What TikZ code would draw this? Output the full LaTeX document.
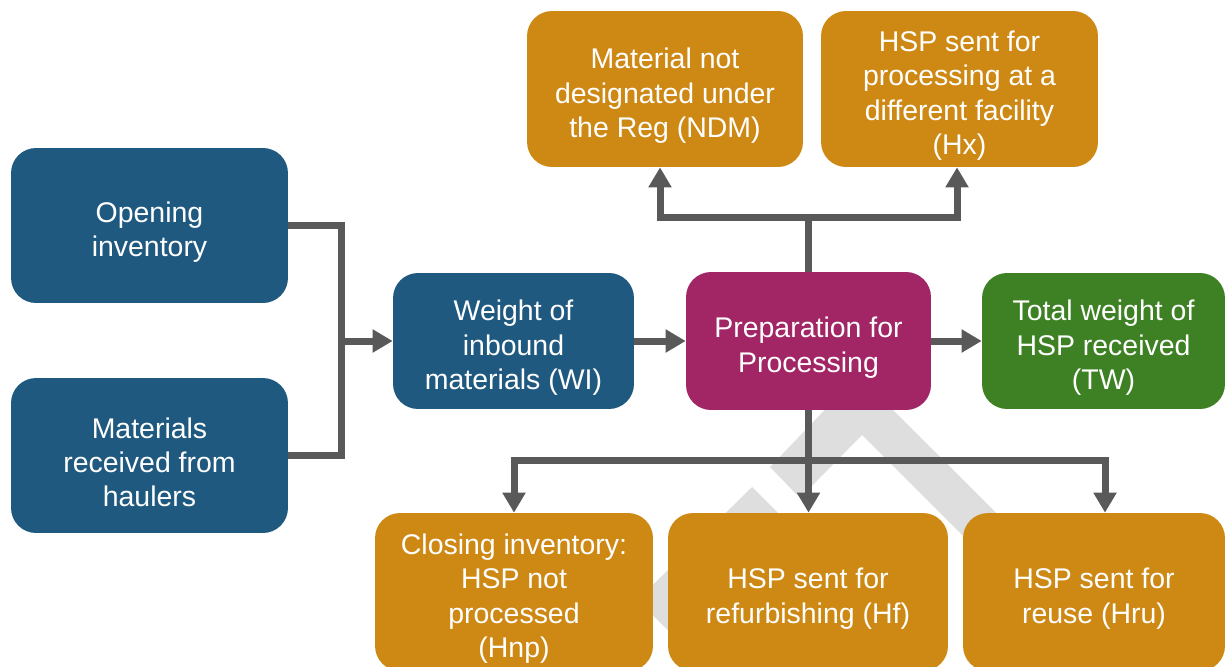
\documentclass[tikz,border=0pt]{standalone}
\usepackage{fontspec}
\setmainfont{Liberation Sans}
\usepackage{tikz}
\usetikzlibrary{arrows.meta}
\definecolor{boxblue}{RGB}{31,89,127}
\definecolor{boxplum}{RGB}{162,37,101}
\definecolor{boxgreen}{RGB}{61,129,36}
\definecolor{boxgold}{RGB}{206,137,21}
\definecolor{linkgray}{RGB}{89,89,89}
\definecolor{wmgray}{RGB}{222,222,222}
\newcommand{\cardtop}{\rule{0pt}{19.5pt}}
\tikzset{>={Triangle[length=0.4cm, width=0.44cm]}}
\tikzset{
  card/.style = {rounded corners = 0.5cm, text = white, align = center,
    inner sep = 0pt, font = \fontsize{16.2}{19.6}\selectfont},
  bluecard/.style = {card, fill = boxblue},
  plumcard/.style = {card, fill = boxplum},
  greencard/.style = {card, fill = boxgreen},
  goldcard/.style = {card, fill = boxgold},
  link/.style = {draw = linkgray, line width = 0.14cm}
}

\begin{document}
\begin{tikzpicture}[x = 0.02cm, y = -0.02cm]
\clip (0,0) rectangle (1229,666);
\fill[wmgray] (770,467) -- (858,375) -- (1184,700) -- (1127,700) -- (862,435) -- (800,498) -- cycle;
\fill[wmgray] (752,487) -- (965,700) -- (737.5,700) -- (637.5,600) -- cycle;

\node[bluecard, minimum width = 5.54cm, minimum height = 3.10cm] (oi) at (149.5,225.5) {\cardtop Opening\\inventory};
\node[bluecard, minimum width = 5.54cm, minimum height = 3.10cm] (haul) at (149.5,455.5) {\cardtop Materials\\received from\\haulers};
\node[bluecard, minimum width = 4.82cm, minimum height = 2.72cm] (wi) at (513.5,341) {\cardtop Weight of\\inbound\\materials (WI)};
\node[plumcard, minimum width = 4.90cm, minimum height = 2.76cm] (prep) at (808.5,341) {\cardtop Preparation for\\Processing};
\node[greencard, minimum width = 4.86cm, minimum height = 2.72cm] (tw) at (1103.5,341) {\cardtop Total weight of\\HSP received\\(TW)};
\node[goldcard, minimum width = 5.52cm, minimum height = 3.12cm] (ndm) at (665,89) {\cardtop Material not\\designated under\\the Reg (NDM)};
\node[goldcard, minimum width = 5.54cm, minimum height = 3.12cm] (hx) at (959.5,89) {\cardtop HSP sent for\\processing at a\\different facility\\(Hx)};
\node[goldcard, minimum width = 5.56cm, minimum height = 3.16cm] (hnp) at (514,592) {\cardtop Closing inventory:\\HSP not\\processed\\(Hnp)};
\node[goldcard, minimum width = 5.60cm, minimum height = 3.16cm] (hf) at (808,592) {\cardtop HSP sent for\\refurbishing (Hf)};
\node[goldcard, minimum width = 5.24cm, minimum height = 3.16cm] (hru) at (1094,592) {\cardtop HSP sent for\\reuse (Hru)};

\coordinate (join) at (341,341);
\coordinate (topbar) at (808.5,217);
\coordinate (botbar) at (808.5,460);

\draw[link] (oi.east) -| (join) |- (haul.east);
\draw[link, ->] (join) -- (wi.west);
\draw[link, ->] (wi.east) -- (prep.west);
\draw[link, ->] (prep.east) -- (tw.west);
\draw[link] (prep.north) -- (topbar);
\draw[link, ->] (topbar) -| ([xshift = -0.1cm]ndm.south);
\draw[link, ->] (topbar) -| ([xshift = -0.05cm]hx.south);
\draw[link, ->] (prep.south) -- (prep.south |- hf.north);
\draw[link, ->] (botbar) -| (hnp.north);
\draw[link, ->] (botbar) -| ([xshift = 0.22cm]hru.north);
\end{tikzpicture}
\end{document}
